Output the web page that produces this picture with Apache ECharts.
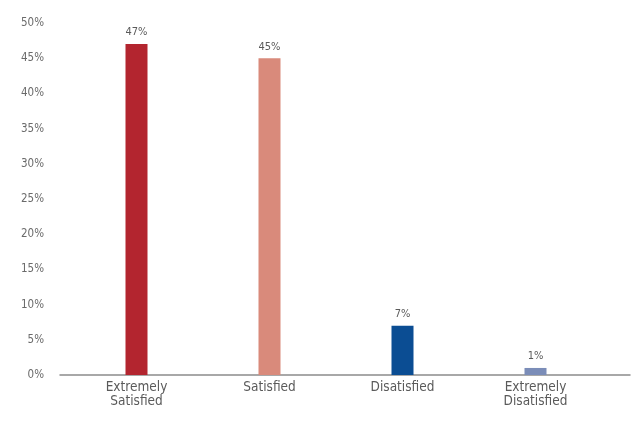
<!DOCTYPE html>
<html>
<head>
<meta charset="utf-8">
<script src="https://cdn.jsdelivr.net/npm/echarts@6/dist/echarts.min.js"></script>
<style>
  html, body { margin: 0; padding: 0; background: #fff; }
  #chart { width: 634px; height: 421px; }
</style>
</head>
<body>
<div id="chart"></div>
<script>
// Satisfaction survey: share of respondents per answer
var categories = ['Extremely\nSatisfied', 'Satisfied', 'Disatisfied', 'Extremely\nDisatisfied'];
var shares = [47, 45, 7, 1];
var barColors = ['#b3252f', '#d98a7b', '#0b4d93', '#7b8db8'];
var yTicks = [0, 5, 10, 15, 20, 25, 30, 35, 40, 45, 50];

var font = '"Liberation Sans Narrow", "DejaVu Sans Condensed", "Liberation Sans", sans-serif';

var chart = echarts.init(document.getElementById('chart'), null, { renderer: 'canvas' });

chart.setOption({
  backgroundColor: '#ffffff',
  animation: false,
  grid: [
    { left: 70, width: 532, top: 23, bottom: 46 },
    { left: 60, right: 4, top: 23, bottom: 46 }
  ],
  xAxis: [
    {
      type: 'category',
      gridIndex: 0,
      data: categories,
      axisLine: { show: false },
      axisTick: { show: false },
      axisLabel: {
        color: '#5a5a5a',
        fontSize: 13.5,
        fontFamily: font,
        lineHeight: 14,
        margin: 5,
        interval: 0
      }
    },
    {
      type: 'value',
      gridIndex: 1,
      min: 0,
      max: 1,
      axisLine: { show: true, lineStyle: { color: '#8c8c8c', width: 1.5 } },
      axisTick: { show: false },
      axisLabel: { show: false },
      splitLine: { show: false }
    }
  ],
  yAxis: [
    {
      type: 'value',
      gridIndex: 0,
      min: yTicks[0],
      max: yTicks[yTicks.length - 1],
      interval: 5,
      axisLine: { show: false },
      axisTick: { show: false },
      splitLine: { show: false },
      axisLabel: {
        color: '#6a6a6a',
        fontSize: 11.5,
        fontFamily: font,
        margin: 26,
        formatter: function (v) { return v + '%'; }
      }
    },
    {
      type: 'value',
      gridIndex: 1,
      min: 0,
      max: 1,
      show: false
    }
  ],
  series: [
    {
      type: 'bar',
      xAxisIndex: 0,
      yAxisIndex: 0,
      barWidth: 22,
      data: shares.map(function (v, i) {
        return { value: v, itemStyle: { color: barColors[i] } };
      }),
      label: {
        show: true,
        position: 'top',
        distance: 6,
        color: '#5a5a5a',
        fontSize: 11,
        fontFamily: font,
        formatter: function (p) { return p.value + '%'; }
      }
    }
  ]
});
</script>
</body>
</html>
